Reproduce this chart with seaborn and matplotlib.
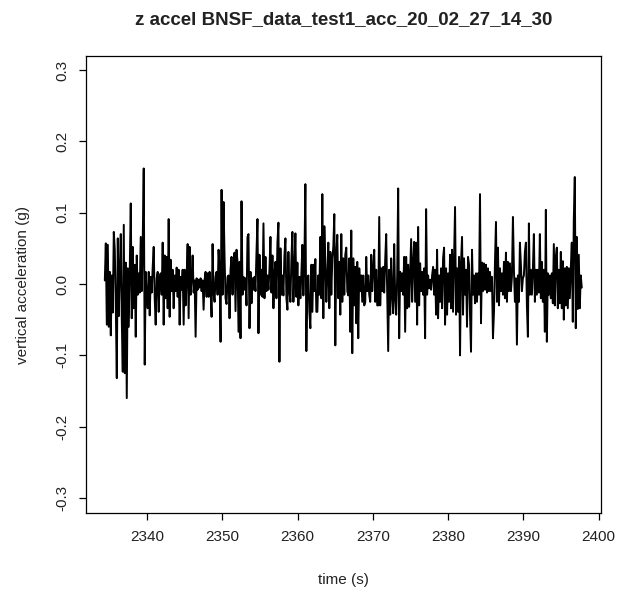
import numpy as np
import pandas as pd
import seaborn as sns
import matplotlib.pyplot as plt

# vertical acceleration, in milli-g, one value per screen column
seg1 = [5, 57, -57, 55, -60, 17, -72, 12, -40, 73, 48, -30, -132, 64, -45, 20,
        70, -50, -123, 83, -125, 30, -160, 22, -60, 20, 113, -48, 52, -34, 27, -74,
        40, -15, 15, -12, 66, -10, 60, 162, -113, 17, -15, -34, 17, -44, 10, -12,
        24, 52, -20, -57, 8, 17, -39, 10, 15, -15, 58, -57, 40, -20, 38, -34,
        91, -46, 34, -10, 20, -34, 12, -10, 23, -18, 20, -57, 10, -8, 20, -57,
        20, -30, 10, 56, -48, 52, -15, 8, 40, -12, 5, -74, 8, -8, 6, -5]
seg2 = [8, -10, 5, -36, 6, 17, -18, 15, -18, 17, -10, -46, 56, -12, -25, 10,
        17, -15, 48, 20, -81, 132, -15, 115, 38, -20, -28, 10, 12, -48, 20, 38,
        -15, 27, 44, -38, 48, 31, -67, 31, -76, 116, -15, 10, -8, 8, -30, 66,
        70, -62, 17, -27, 8, -8, 10, -10, 44, 91, -69, 41, -15, 20, -18, 85,
        -20, 38, -10, 12, -8, 20, 66, -12, 40, -34, 15, 31, -20, 58, 86, -109,
        50, -15, 12, -16, 40, 64, -20, -36, 45, -10, -25, 35, 73, -25, 20, 71,
        -18, 30]
seg3 = [-30, 10, -20, 15, 55, -16, 30, 140, -94, 8, 12, -39, -62, 27, -39, 27,
        -10, 35, -39, -39, 12, -15, 66, -20, 126, -48, 81, 31, -25, 10, 58, -34,
        45, -15, 36, 52, 98, -86, 43, 69, -20, 31, -43, 70, -25, 36, -15, 41,
        51, -10, -16, 36, -67, 75, -97, 36, -30, 24, -55, 31, -76, 22, -10, 12,
        -25, 12, -30, -25, 38, -10, 12, -15, -25, 41, -10, 22, 48, -25, 20, -30,
        -30, 94, -30, 22, -10, 24, -12, 34, 70, -15, -94, 20, -43, 36, -15, -41,
        56, -20]
seg4 = [-43, 10, 134, -76, 17, -10, 15, -15, 38, -67, 38, -34, 27, -32, 15, 63,
        -25, 29, 59, -25, 58, -57, 80, -30, 29, -10, 17, -15, 22, -76, 105, -15,
        12, -6, 6, -8, 12, 24, -15, 20, -43, 48, -48, 12, -25, 22, -34, 36,
        51, -57, 22, -43, 15, -25, 41, -34, 48, -39, 31, 108, -43, 22, -39, 38,
        -100, 30, 66, -43, 36, -15, 20, -60, 38, 27, -43, -95, 48, -15, 12, -27,
        15, -25, 15, -15, 126, -55, 30, -10, 29, -8, 27, -12, 22, -10, 17, -10,
        10, -76]
seg5 = [-40, 30, 87, -25, 51, -30, 22, -10, 15, -15, 31, -20, 44, -25, 31, -10,
        29, -10, 10, 94, 20, -25, 8, -85, 12, -25, 58, 27, -10, 8, 12, 45,
        58, -30, -74, 85, -15, 20, -15, 20, 70, -25, 20, -15, 20, -12, 70, -20,
        31, -25, 20, -67, 104, -81, 15, -15, 12, -20, 15, -27, 56, -30, 38, 51,
        -34, 20, -27, 45, -34, 32, -50, 22, -30, 24, -34, 22, -20, 22, 58, -53,
        90, 150, -62, 66, -35, 41, -34, 12, -5]

t_start, t_end = 2334.4, 2397.75
y_ticks = [-0.3, -0.2, -0.1, 0.0, 0.1, 0.2, 0.3]
x_ticks = [2340, 2350, 2360, 2370, 2380, 2390, 2400]

accel = np.array(seg1 + seg2 + seg3 + seg4 + seg5) / 1000.0
time = np.linspace(t_start, t_end, len(accel))
df = pd.DataFrame({"time": time, "accel": accel})

sns.set_theme(style="ticks")
plt.rcParams["font.family"] = ["Liberation Sans", "DejaVu Sans"]
plt.rcParams["axes.unicode_minus"] = False

fig = plt.figure(figsize=(6.24, 5.91), dpi=100)
ax = fig.add_axes([0.1378, 0.132, 0.8253, 0.7732])

sns.lineplot(data=df, x="time", y="accel", ax=ax, color="black",
             linewidth=1.4, estimator=None, sort=False)

ax.set_xlim(2331.9, 2400.3)
ax.set_ylim(-0.321, 0.3196)
ax.set_xticks(x_ticks)
ax.set_yticks(y_ticks)
ax.set_xticklabels([str(v) for v in x_ticks])
ax.set_yticklabels(["%.1f" % v for v in y_ticks], rotation=90, va="center")

for s in ax.spines.values():
    s.set_visible(True)
    s.set_color("black")
    s.set_linewidth(0.9)
ax.tick_params(axis="both", direction="out", length=5, width=0.9,
               color="black", labelsize=11, labelcolor="#222222")
ax.tick_params(axis="x", pad=7)
ax.tick_params(axis="y", pad=7)

ax.set_xlabel("time (s)", fontsize=11, color="#222222", labelpad=21)
ax.set_ylabel("vertical acceleration (g)", fontsize=11, color="#222222", labelpad=18)
ax.set_title("z accel BNSF_data_test1_acc_20_02_27_14_30", fontsize=13.5,
             fontweight="bold", color="#222222", pad=23)

fig.savefig("out.png", dpi=100)
